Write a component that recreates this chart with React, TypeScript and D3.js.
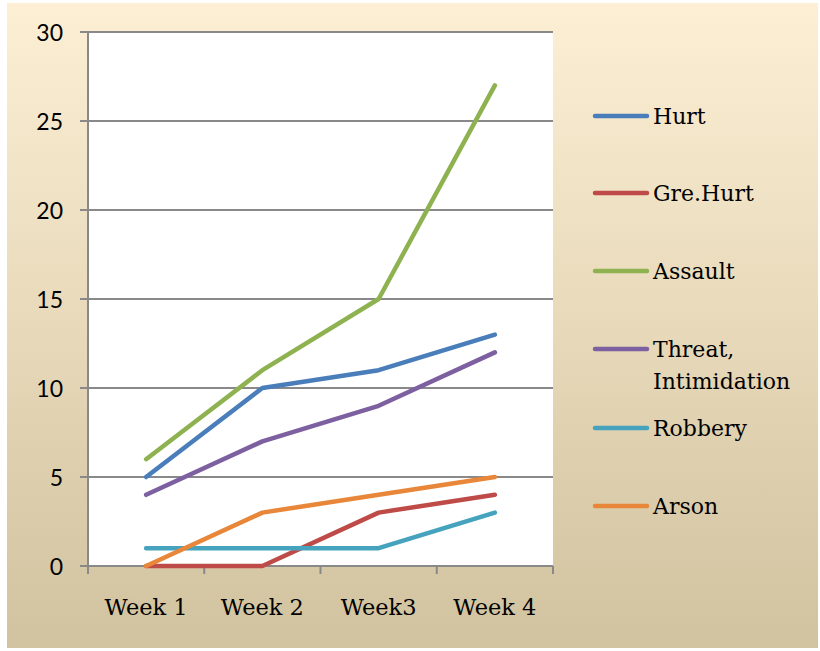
import * as d3 from "d3";

const weeks = ["Week 1", "Week 2", "Week3", "Week 4"];
const seriesNames = ["Hurt", "Gre.Hurt", "Assault", "Threat, Intimidation", "Robbery", "Arson"];
const hurt = [5, 10, 11, 13];
const greHurt = [0, 0, 3, 4];
const assault = [6, 11, 15, 27];
const threat = [4, 7, 9, 12];
const robbery = [1, 1, 1, 3];
const arson = [0, 3, 4, 5];
const yTicks = [0, 5, 10, 15, 20, 25, 30];
const colors = ["#4A7EBB", "#BE4B48", "#8FB250", "#7D60A0", "#46A3BE", "#E8873A"];

const W = 820;
const H = 651;
const left = 88;
const right = 553;
const top = 32;
const bottom = 566;

export default function App() {
  const values = [hurt, greHurt, assault, threat, robbery, arson];
  const x = d3.scaleBand().domain(weeks).range([left, right]);
  const y = d3.scaleLinear().domain([0, 30]).range([bottom, top]);
  const line = d3
    .line<number>()
    .x((_, i) => (x(weeks[i]) ?? 0) + x.bandwidth() / 2)
    .y((d) => y(d));

  const legendY = [116, 193, 271, 349, 428, 506];
  const boundaries = [...weeks.map((w) => x(w) ?? 0), right];

  return (
    <svg
      width={W}
      height={H}
      style={{ position: "absolute", left: 0, top: 0 }}
    >
      <defs>
        <linearGradient id="bg" x1="0" y1="0" x2="0" y2="1">
          <stop offset="0%" stopColor="#FDEFD4" />
          <stop offset="100%" stopColor="#D1C39F" />
        </linearGradient>
      </defs>
      <rect x={0} y={0} width={W} height={H} fill="#fff" />
      <rect x={7} y={3} width={811} height={645} fill="url(#bg)" />
      <rect x={left} y={top} width={right - left} height={bottom - top} fill="#fff" />

      {yTicks.map((t) => (
        <g key={t}>
          <line x1={80} x2={right} y1={y(t)} y2={y(t)} stroke="#898989" strokeWidth={1.8} />
          <text
            x={63}
            y={y(t)}
            textAnchor="end"
            dominantBaseline="central"
            fontFamily="Lato, sans-serif"
            fontSize={23}
            fill="#000"
          >
            {t}
          </text>
        </g>
      ))}
      <line x1={left} x2={left} y1={top} y2={bottom} stroke="#898989" strokeWidth={2} />
      {boundaries.map((b, i) => (
        <line key={i} x1={b} x2={b} y1={bottom} y2={bottom + 8} stroke="#898989" strokeWidth={2} />
      ))}
      {weeks.map((w) => (
        <text
          key={w}
          x={(x(w) ?? 0) + x.bandwidth() / 2}
          y={607}
          textAnchor="middle"
          dominantBaseline="central"
          fontFamily="'DejaVu Serif', serif"
          fontSize={22.5}
          fill="#000"
        >
          {w}
        </text>
      ))}

      {values.map((v, i) => (
        <path
          key={seriesNames[i]}
          d={line(v) ?? ""}
          fill="none"
          stroke={colors[i]}
          strokeWidth={4.5}
          strokeLinecap="round"
          strokeLinejoin="round"
        />
      ))}

      {seriesNames.map((n, i) => {
        const parts = n === "Threat, Intimidation" ? ["Threat,", "Intimidation"] : [n];
        return (
          <g key={n}>
            <line
              x1={595}
              x2={647}
              y1={legendY[i]}
              y2={legendY[i]}
              stroke={colors[i]}
              strokeWidth={4.5}
              strokeLinecap="round"
            />
            {parts.map((p, j) => (
              <text
                key={p}
                x={653}
                y={legendY[i] + j * 32}
                dominantBaseline="central"
                fontFamily="'DejaVu Serif', serif"
                fontSize={22}
                fill="#000"
              >
                {p}
              </text>
            ))}
          </g>
        );
      })}
    </svg>
  );
}
